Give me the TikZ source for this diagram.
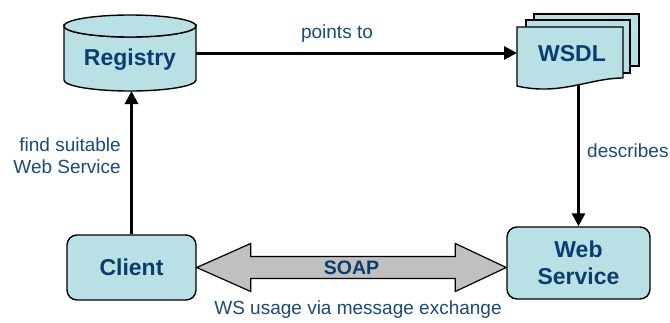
\documentclass[tikz,border=0pt]{standalone}
\usepackage{fontspec}
\setmainfont{Liberation Sans}
\usetikzlibrary{arrows.meta,calc}
\pgfdeclarelayer{paper}
\pgfdeclarelayer{background}
\pgfsetlayers{paper,background,main}
\definecolor{boxfill}{HTML}{B9E0E5}
\definecolor{boldink}{HTML}{0B3C6F}
\definecolor{labelink}{HTML}{1A4A7A}
\definecolor{soapgray}{HTML}{C0C0C0}
\begin{document}
\begin{tikzpicture}[x=1pt,y=-1pt,
  shapeline/.style={draw=black, line width=1.4pt, fill=boxfill},
  box/.style={shapeline, rounded corners=10pt, inner sep=0pt, align=center},
  boldtxt/.style={text=boldink, font=\fontsize{23}{27}\selectfont\bfseries, align=center},
  labeltxt/.style={text=labelink, font=\fontsize{19}{22}\selectfont, inner sep=0pt},
  anchorbox/.style={inner sep=0pt, outer sep=0pt},
  link/.style={draw=black, line width=3pt, -{Triangle[length=13pt,width=13pt]}}
]
\begin{pgfonlayer}{paper}
  \fill[white] (0,0) rectangle (670,322);
\end{pgfonlayer}
\useasboundingbox (0,0) rectangle (670,322);

% Registry: a cylinder
\node[anchorbox, minimum width=132pt, minimum height=76pt] (registry) at (130,53) {};
\filldraw[shapeline] (64,26) -- (64,80)
  arc[start angle=180, end angle=0, x radius=66, y radius=11]
  -- (196,26)
  arc[start angle=0, end angle=180, x radius=66, y radius=11] -- cycle;
\filldraw[shapeline] (130,26) ellipse [x radius=66, y radius=11];
\node[boldtxt] (registrytext) at (130,60) {Registry};

% WSDL: a stack of three documents
\node[anchorbox, minimum width=106pt, minimum height=60pt] (wsdl) at (570,57) {};
\filldraw[shapeline] (534,14) rectangle (639,66);
\filldraw[shapeline] (526,20) rectangle (630,73);
\filldraw[shapeline] (517,27) -- (623,27) -- (623,78)
  .. controls (590,78) and (560,96) .. (517,86) -- cycle;
\node[boldtxt] (wsdltext) at (572,54) {WSDL};

% Client and Web Service
\node[box, boldtxt, minimum width=129pt, minimum height=65pt] (client) at (131.5,267.5) {Client};
\node[box, boldtxt, minimum width=143pt, minimum height=72pt] (ws) at (578.5,263) {Web\\Service};

% SOAP double arrow between Client and Web Service
\coordinate (soapL) at (client.east);
\coordinate (soapR) at (client.east -| ws.west);
\filldraw[draw=black, line width=1.2pt, fill=soapgray, line join=miter]
  (soapL) -- ($(soapL)+(54,-24)$) -- ($(soapL)+(54,-11)$)
  -- ($(soapR)+(-51,-11)$) -- ($(soapR)+(-51,-24)$) -- (soapR)
  -- ($(soapR)+(-51,24)$) -- ($(soapR)+(-51,11)$)
  -- ($(soapL)+(54,11)$) -- ($(soapL)+(54,24)$) -- cycle;
\node[text=boldink, font=\fontsize{19.5}{22}\selectfont\bfseries] (soap) at ($(soapL)!0.5!(soapR)$) {SOAP};

% Connectors, kept under the shapes they start from
\begin{pgfonlayer}{background}
  \draw[link] (client.north) -- (client.north |- registry.south);
  \draw[link] (registry.east) -- (registry.east -| wsdl.west);
  \draw[link] (ws.north |- wsdl.center) -- (ws.north);
\end{pgfonlayer}

% Labels
\node[labeltxt] (pointsto) at (337,34) {points to};
\node[labeltxt, anchor=east, align=right] (findws) at (121,156) {find suitable\\Web Service};
\node[labeltxt, anchor=west] (describes) at (587,151) {describes};
\node[labeltxt] (usage) at (358,310) {WS usage via message exchange};
\end{tikzpicture}
\end{document}
